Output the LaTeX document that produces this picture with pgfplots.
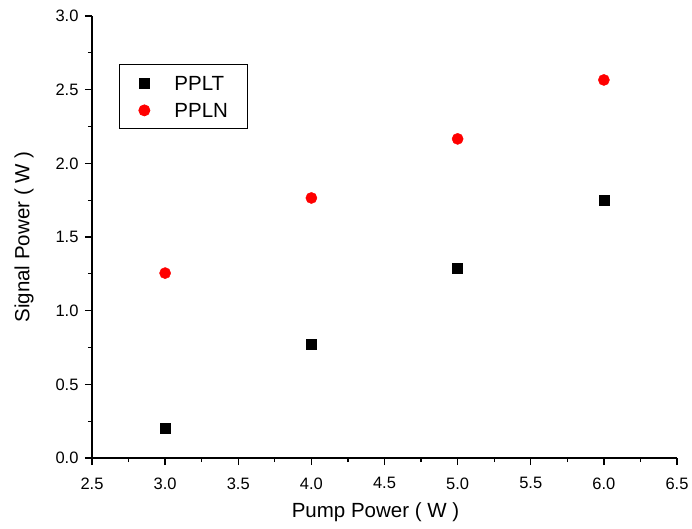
\documentclass[border=0pt]{standalone}
\usepackage{pgfplots}
\pgfplotsset{compat=1.18}
\usepackage{fontspec}
\setmainfont{Liberation Sans}
\begin{document}
\begin{tikzpicture}
\begin{axis}[
  name=ax,
  scale only axis,
  width=585pt, height=442pt,
  xmin=2.5, xmax=6.5, ymin=0, ymax=3,
  axis x line*=bottom, axis y line*=left,
  axis line style={line width=1.3pt, -},
  xtick={2.5,3,...,6.5}, ytick={0,0.5,...,3},
  minor tick num=1,
  tick align=outside,
  major tick length=7pt, minor tick length=4pt,
  every tick/.style={black, line width=1.3pt},
  /pgf/number format/assume math mode=true,
  /pgf/number format/.cd, fixed, fixed zerofill, precision=1,
  /pgfplots/.cd,
  tick label style={font=\fontsize{16.5}{19}\selectfont},
  xticklabel style={yshift=-9pt},
  yticklabel style={xshift=-3pt},
  xlabel={Pump Power ( W )},
  ylabel={Signal Power ( W )},
  label style={font=\fontsize{20.5}{24}\selectfont},
  xlabel style={at={(axis description cs:0.5,0)}, anchor=base, yshift=-59pt, xshift=-9pt},
  ylabel style={at={(axis description cs:-0.1162,0.5)}, anchor=center},
  legend style={at={(rel axis cs:0.046,0.891)}, anchor=north west,
    draw=black, line width=0.7pt, font=\fontsize{20.5}{24}\selectfont,
    inner xsep=19.5pt, inner ysep=11pt, row sep=12.8pt, column sep=24.5pt,
    nodes={inner sep=0pt, text height=14.7pt, text depth=0pt}},
  legend cell align=left,
]
\addplot[only marks, mark=square*, mark size=5pt, black] coordinates {
  (3,0.20) (4,0.77) (5,1.29) (6,1.75)
};
\addlegendentry{PPLT}
\addplot[only marks, mark=*, mark size=5.6pt, red, mark options={draw=red, fill=red}] coordinates {
  (3,1.255) (4,1.765) (5,2.166) (6,2.566)
};
\addlegendentry{PPLN}
\end{axis}
\path[use as bounding box] ([shift={(-92pt,-70pt)}]ax.south west) rectangle ([shift={(15pt,16pt)}]ax.north east);
\end{tikzpicture}
\end{document}
